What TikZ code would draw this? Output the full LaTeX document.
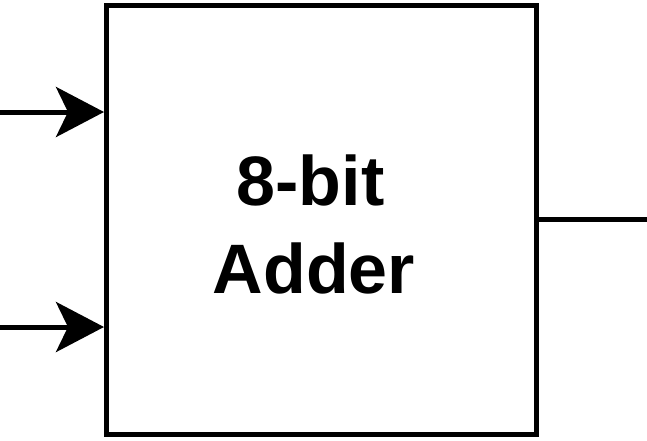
\documentclass[tikz,border=0pt]{standalone}
\usepackage{fontspec}
\setmainfont{Liberation Sans}
\usetikzlibrary{arrows.meta}
\begin{document}
\begin{tikzpicture}[x=1pt,y=-1pt,
  wire/.style={line width=5pt,draw=black},
  arr/.style={wire,-{Stealth[length=48pt,width=50pt,inset=12pt]}},
  blockbox/.style={draw=black,line width=5pt,fill=white,minimum width=430pt,minimum height=429.5pt,inner sep=0pt},
  lbl/.style={font=\bfseries\fontsize{70}{88}\selectfont,inner sep=0pt,anchor=base}]
\useasboundingbox (0,0) rectangle (647,440);
\node[blockbox] (box) at (321.5,219.75) {};
\node[lbl] (t1) at (310.5,205) {8-bit};
\node[lbl] (t2) at (314,293) {Adder};
\coordinate (in1) at (0,112);
\coordinate (in2) at (0,327);
\coordinate (out) at (647,219.5);
\draw[arr] (in1) -- (box.west |- in1);
\draw[arr] (in2) -- (box.west |- in2);
\draw[wire] (box.east |- out) -- (out);
\end{tikzpicture}
\end{document}
